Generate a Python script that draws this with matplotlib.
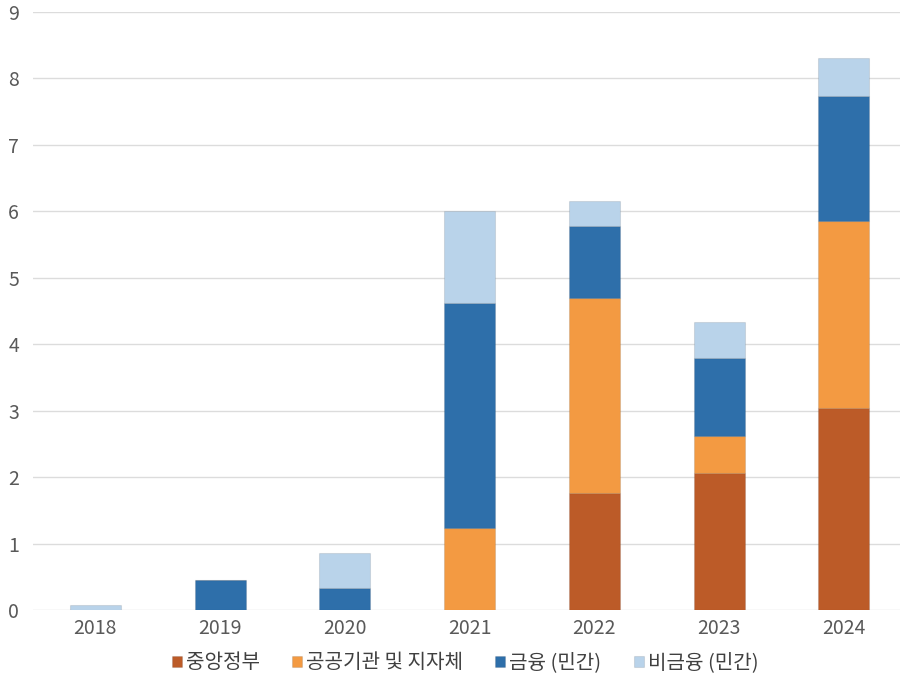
import numpy as np
import matplotlib
matplotlib.use('Agg')
import matplotlib.pyplot as plt

plt.rcParams['font.family'] = ['Noto Sans CJK KR', 'DejaVu Sans']

years = ['2018', '2019', '2020', '2021', '2022', '2023', '2024']
series_names = ['중앙정부', '공공기관 및 지자체', '금융 (민간)', '비금융 (민간)']
central_gov = [0, 0, 0, 0, 1.76, 2.06, 3.04]
public_local = [0, 0, 0, 1.23, 2.94, 0.56, 2.82]
finance_private = [0, 0.45, 0.33, 3.39, 1.08, 1.18, 1.87]
nonfinance_private = [0.07, 0, 0.53, 1.38, 0.38, 0.54, 0.58]
colors = ['#BC5B28', '#F39A42', '#2E6FAA', '#B9D3EA']

fig = plt.figure(figsize=(9, 6.81), dpi=100)
ax = fig.add_axes([33 / 900, 71 / 681, 1 - 33 / 900, 598 / 681])

x = np.arange(len(years))
bottom = np.zeros(len(years))
for name, vals, c in zip(series_names,
                         [central_gov, public_local, finance_private, nonfinance_private],
                         colors):
    vals = np.array(vals)
    ax.bar(x, vals, 0.41, bottom=bottom, color=c, label=name, zorder=3,
           edgecolor='#00000018', linewidth=0.8)
    bottom += vals

ax.set_ylim(0, 9)
ax.set_xlim(-0.5, 6.45)
ax.set_yticks(range(10))
ax.set_xticks(x)
ax.set_xticklabels(years)
ax.grid(axis='y', color='#dcdcdc', linewidth=1, zorder=0)
for s in ax.spines.values():
    s.set_visible(False)
ax.tick_params(length=0, labelsize=14, colors='#595959')
ax.tick_params(axis='x', pad=6)
ax.tick_params(axis='y', pad=10)

leg = fig.legend(loc='center', bbox_to_anchor=(465 / 900, 1 - 663 / 681), ncol=4,
                 frameon=False, fontsize=14.5, handlelength=0.5, handleheight=0.5,
                 handletextpad=0.2, columnspacing=1.6)
for t in leg.get_texts():
    t.set_color('#404040')

fig.savefig('out.png', dpi=100)
